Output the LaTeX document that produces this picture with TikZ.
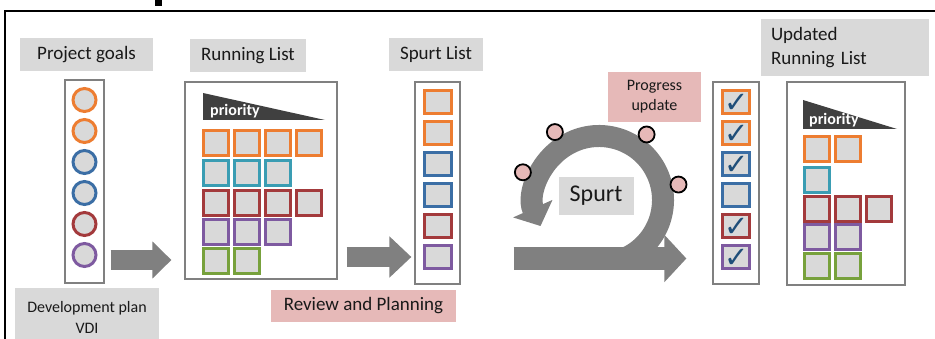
\documentclass[tikz,border=0pt]{standalone}
\usepackage{fontspec}
\setmainfont{Carlito}
\newfontfamily\tickfont{DejaVu Sans}
\usetikzlibrary{arrows.meta,positioning}

\definecolor{orng}{HTML}{ED7D31}
\definecolor{blu}{HTML}{3B6EA5}
\definecolor{rust}{HTML}{A33A3C}
\definecolor{purp}{HTML}{7E5AA0}
\definecolor{sea}{HTML}{3A9DB3}
\definecolor{grn}{HTML}{77A13C}
\definecolor{itemgray}{HTML}{D9D9D9}
\definecolor{lblpink}{HTML}{E6B9B8}
\definecolor{arrowgray}{HTML}{808080}
\definecolor{boxgray}{HTML}{808080}
\definecolor{priodark}{HTML}{404040}
\definecolor{tickblue}{HTML}{1F4E79}

\begin{document}
\begin{tikzpicture}[
    x=1pt, y=-1pt,
    tag/.style={fill=itemgray,inner sep=0pt,text=black!90,font=\fontsize{19}{24}\selectfont},
    note/.style={tag,fill=lblpink},
    listbox/.style={draw=boxgray,line width=1.2pt,inner sep=0pt},
    item/.style={draw=#1,line width=3pt,fill=itemgray,minimum width=25pt,minimum height=25pt,inner sep=0pt},
    slot/.style={item=#1,minimum width=27pt,minimum height=23pt},
    goal/.style={circle,draw=#1,line width=3pt,fill=itemgray,minimum size=23pt,inner sep=0pt},
    tick/.style={text=tickblue,font=\tickfont\fontsize{29}{29}\selectfont,inner sep=0pt},
    dot/.style={circle,draw=black,line width=1.8pt,fill=lblpink,minimum size=16pt,inner sep=0pt},
    fat/.style={draw=arrowgray,line width=#1},
    prio/.style={text=white,font=\bfseries\fontsize{16}{16}\selectfont,inner sep=0pt,anchor=base west}
]
    \useasboundingbox (0,0) rectangle (935,339);
    \clip (0,0) rectangle (935,339);
    \draw[line width=2pt] (945,11) -- (5,11) -- (5,350);
    \fill (155,0) rectangle (162,6);

    % titles
    \node[tag,minimum width=133pt,minimum height=33pt] (goalsT) at (86.5,54.5) {Project goals};
    \node[tag,minimum width=116pt,minimum height=33pt] (runT) at (248,55.5) {Running List};
    \node[tag,minimum width=94pt,minimum height=33pt] (spurtT) at (436,54.5) {Spurt List};
    \node[tag,minimum width=168pt,minimum height=57pt,text width=148pt,align=left] (updT) at (845,47.5) {Updated\\Running List};
    \node[tag,anchor=north,minimum width=144pt,minimum height=58pt,align=center,font=\fontsize{16}{21}\selectfont] (devT) at (87,288) {Development plan\\VDI};
    \node[note,minimum width=185pt,minimum height=32pt] (revT) at (363.5,306) {Review and Planning};
    \node[note,minimum width=93pt,minimum height=50pt,align=center,font=\fontsize{16}{20}\selectfont] (progT) at (654.5,97) {Progress\\update};

    % lists
    \node[listbox,minimum width=39pt,minimum height=203pt] (goals) at (84.5,181.5) {};
    \node[listbox,minimum width=152pt,minimum height=197pt] (run) at (261,180.5) {};
    \node[listbox,minimum width=45pt,minimum height=202pt] (spurtL) at (437.5,183) {};
    \node[listbox,minimum width=46pt,minimum height=202pt] (done) at (736,183) {};
    \node[listbox,minimum width=118pt,minimum height=203pt] (upd) at (846,183.5) {};

    \foreach \c [count=\k] in {orng,orng,blu,blu,rust,purp} {
        \node[goal=\c] (goal\k) at (84.5,{69+31*\k}) {};
        \node[slot=\c] (spurt\k) at (437.5,{71+31*\k}) {};
        \node[slot=\c] (done\k) at (736,{71+31*\k}) {};
    }
    \foreach \k in {1,2,3,5,6}
        \node[tick] (tick\k) at ([shift={(1,1)}]done\k.center) {✓};

    \fill[priodark] (203,93) -- (203,120) -- (325,120) -- cycle;
    \node[prio] (runP) at (210,116) {priority};
    \foreach \c/\y/\n [count=\r] in {orng/143/4,sea/173/3,rust/203/4,purp/232/3,grn/261/2}
        \foreach \i in {1,...,\n}
            \node[item=\c] (run\r-\i) at ({185+31*\i},\y) {};

    \fill[priodark] (803,100) -- (803,129) -- (897,129) -- cycle;
    \node[prio] (updP) at (809,125) {priority};
    \foreach \c/\y/\n [count=\r] in {orng/149.5/2,sea/180/1,rust/209/3,purp/237.5/2,grn/266/2}
        \foreach \i in {1,...,\n}
            \node[item=\c] (upd\r-\i) at ({786+31*\i},\y) {};

    % arrows between the lists
    \coordinate (a1) at ([shift={(6,78.5)}]goals.east);
    \coordinate (a2) at ([shift={(9,76.5)}]run.east);
    \coordinate (a3) at ([shift={(53,75.5)}]spurtL.east);
    \draw[fat=20pt,-{Triangle[length=19pt,width=36pt]},shorten >=13pt] (a1) -- (a1 -| run.west);
    \draw[fat=20pt,-{Triangle[length=22pt,width=40pt]},shorten >=3pt] (a2) -- (a2 -| spurtL.west);

    % spurt loop
    \coordinate (hub) at (599,200);
    \draw[fat=22pt,-{Triangle[length=19pt,width=42pt]}] (hub) ++(65:64) arc[start angle=65,end angle=-204,radius=64];
    \draw[fat=23pt,-{Triangle[length=22pt,width=46pt]},shorten >=26pt] (a3) -- (a3 -| done.west);
    \foreach \a [count=\k] in {-123,-160,-54,-11}
        \path (hub) ++(\a:81) node[dot] (dot\k) {};
    \node[tag,minimum width=75pt,minimum height=38pt,font=\fontsize{24}{28}\selectfont] (spurt) at (596,196) {Spurt};
\end{tikzpicture}
\end{document}
